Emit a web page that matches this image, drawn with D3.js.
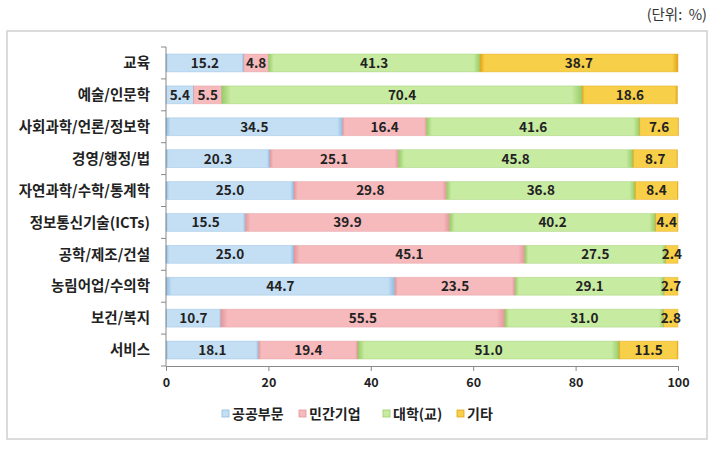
<!DOCTYPE html>
<html>
<head>
<meta charset="utf-8">
<script src="https://cdn.jsdelivr.net/npm/d3@7"></script>
<style>
  body { margin: 0; background: #fff; }
  svg text { font-family: "Noto Sans CJK KR", "Noto Sans", sans-serif; }
</style>
</head>
<body>
<svg id="chart" width="721" height="450"></svg>
<script>
const categories = ["교육", "예술/인문학", "사회과학/언론/정보학", "경영/행정/법", "자연과학/수학/통계학",
    "정보통신기술(ICTs)", "공학/제조/건설", "농림어업/수의학", "보건/복지", "서비스"];
const seriesNames = ["공공부문", "민간기업", "대학(교)", "기타"];
const publicSector = [15.2, 5.4, 34.5, 20.3, 25.0, 15.5, 25.0, 44.7, 10.7, 18.1];
const privateSector = [4.8, 5.5, 16.4, 25.1, 29.8, 39.9, 45.1, 23.5, 55.5, 19.4];
const university = [41.3, 70.4, 41.6, 45.8, 36.8, 40.2, 27.5, 29.1, 31.0, 51.0];
const others = [38.7, 18.6, 7.6, 8.7, 8.4, 4.4, 2.4, 2.7, 2.8, 11.5];
const xTicks = [0, 20, 40, 60, 80, 100];

const colors = [
    { light: "#c4dff4", dark: "#8dbbe0" },
    { light: "#f6babd", dark: "#e3979b" },
    { light: "#c8eba2", dark: "#98cc68" },
    { light: "#f8cf48", dark: "#dfa51c" }
];

const svg = d3.select("#chart");
const margin = { top: 47, left: 166, right: 43, bottom: 84 };
const width = 721 - margin.left - margin.right;
const height = 450 - margin.top - margin.bottom;

// outer frame
svg.append("rect")
    .attr("x", 7).attr("y", 31).attr("width", 700).attr("height", 408)
    .attr("fill", "none").attr("stroke", "#d0d0d0").attr("stroke-width", 1.5);

svg.append("text")
    .attr("x", 707).attr("y", 20)
    .attr("text-anchor", "end")
    .attr("font-size", 14.5)
    .attr("fill", "#333")
    .text("(단위:\u00a0\u00a0%)");

// gradients
const defs = svg.append("defs");
colors.forEach((c, i) => {
    const g = defs.append("linearGradient").attr("id", "grad" + i)
        .attr("x1", "0%").attr("x2", "100%").attr("y1", "0%").attr("y2", "0%");
    g.append("stop").attr("offset", "0%").attr("stop-color", c.dark);
    g.append("stop").attr("offset", "2.5%").attr("stop-color", c.light);
    g.append("stop").attr("offset", "97%").attr("stop-color", c.light);
    g.append("stop").attr("offset", "100%").attr("stop-color", c.dark);
});

const x = d3.scaleLinear().domain([0, 100]).range([0, width]);
const y = d3.scaleBand().domain(categories).range([0, height]).paddingInner(0.44).paddingOuter(0.22);

const container = svg.append("g").attr("transform", `translate(${margin.left},${margin.top})`);

const rows = categories.map((cat, i) => {
    const vals = [publicSector[i], privateSector[i], university[i], others[i]];
    let acc = 0;
    return vals.map((v, s) => {
        const d = { cat, s, v, x0: acc, x1: acc + v };
        acc += v;
        return d;
    });
}).flat();

container.selectAll("rect.seg")
    .data(rows)
    .join("rect")
    .attr("class", "seg")
    .attr("x", d => x(d.x0))
    .attr("y", d => y(d.cat))
    .attr("width", d => x(d.x1) - x(d.x0))
    .attr("height", y.bandwidth())
    .attr("fill", d => `url(#grad${d.s})`)
    .attr("stroke", d => colors[d.s].dark)
    .attr("stroke-opacity", 0.5)
    .attr("stroke-width", 0.8);

container.selectAll("text.val")
    .data(rows)
    .join("text")
    .attr("class", "val")
    .attr("x", d => x((d.x0 + d.x1) / 2))
    .attr("y", d => y(d.cat) + y.bandwidth() / 2)
    .attr("dy", "0.36em")
    .attr("text-anchor", "middle")
    .attr("font-size", 13.5)
    .attr("font-weight", "bold")
    .attr("fill", "#222")
    .text(d => d.v.toFixed(1));

// y axis
container.append("line")
    .attr("x1", 0).attr("x2", 0).attr("y1", 0).attr("y2", height)
    .attr("stroke", "#888");
const step = y.step();
d3.range(categories.length + 1).forEach(i => {
    container.append("line")
        .attr("x1", -5).attr("x2", 0)
        .attr("y1", i * step).attr("y2", i * step)
        .attr("stroke", "#888");
});
container.selectAll("text.cat")
    .data(categories)
    .join("text")
    .attr("class", "cat")
    .attr("x", -16)
    .attr("y", d => y(d) + y.bandwidth() / 2)
    .attr("dy", "0.36em")
    .attr("text-anchor", "end")
    .attr("font-size", 14.5)
    .attr("font-weight", "bold")
    .attr("fill", "#222")
    .text(d => d);

// x axis
const xAxis = container.append("g")
    .attr("transform", `translate(0,${height})`)
    .call(d3.axisBottom(x).tickValues(xTicks).tickSize(5).tickPadding(7));
xAxis.select(".domain").attr("stroke", "#888");
xAxis.selectAll(".tick line").attr("stroke", "#888");
xAxis.selectAll(".tick text")
    .attr("font-size", 12.5).attr("font-weight", "bold").attr("fill", "#222")
    .style("font-family", "'Noto Sans CJK KR', sans-serif");

// legend
const legendX = [222, 299, 383, 457];
const legend = svg.append("g").attr("transform", "translate(0,414)");
seriesNames.forEach((name, i) => {
    legend.append("rect")
        .attr("x", legendX[i]).attr("y", -4).attr("width", 7).attr("height", 7)
        .attr("fill", colors[i].light).attr("stroke", colors[i].dark).attr("stroke-width", 0.8);
    legend.append("text")
        .attr("x", legendX[i] + 10).attr("y", 0)
        .attr("dy", "0.36em")
        .attr("font-size", 14).attr("font-weight", "bold").attr("fill", "#222")
        .text(name);
});
</script>
</body>
</html>
